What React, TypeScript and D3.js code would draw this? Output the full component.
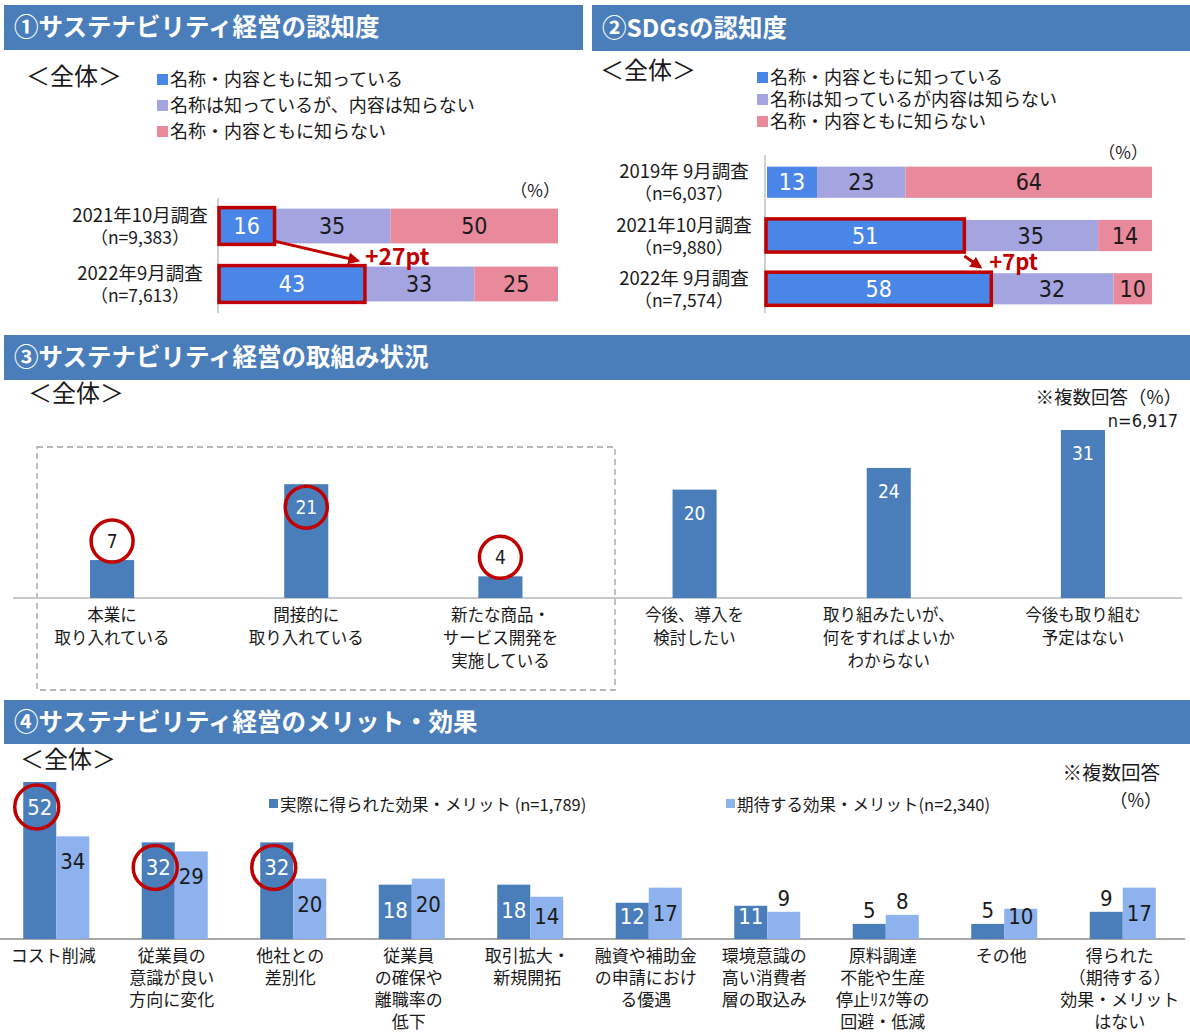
import React from "react";
import * as d3 from "d3";

// ---------- DATA ----------
const sec1Title = "①サステナビリティ経営の認知度";
const sec1Legend = ["名称・内容ともに知っている", "名称は知っているが、内容は知らない", "名称・内容ともに知らない"];
const sec1Categories = ["2021年10月調査", "2022年9月調査"];
const sec1N = ["（n=9,383）", "（n=7,613）"];
const sec1Known = [16, 43];
const sec1NameOnly = [35, 33];
const sec1Unknown = [50, 25];
const sec1Highlight = [0, 1];
const sec1Diff = "+27pt";

const sec2Title = "②SDGsの認知度";
const sec2Legend = ["名称・内容ともに知っている", "名称は知っているが内容は知らない", "名称・内容ともに知らない"];
const sec2Categories = ["2019年 9月調査", "2021年10月調査", "2022年 9月調査"];
const sec2N = ["（n=6,037）", "（n=9,880）", "（n=7,574）"];
const sec2Known = [13, 51, 58];
const sec2NameOnly = [23, 35, 32];
const sec2Unknown = [64, 14, 10];
const sec2Highlight = [1, 2];
const sec2Diff = "+7pt";

const sec3Title = "③サステナビリティ経営の取組み状況";
const sec3Categories = [
  ["本業に", "取り入れている"],
  ["間接的に", "取り入れている"],
  ["新たな商品・", "サービス開発を", "実施している"],
  ["今後、導入を", "検討したい"],
  ["取り組みたいが、", "何をすればよいか", "わからない"],
  ["今後も取り組む", "予定はない"],
];
const sec3Values = [7, 21, 4, 20, 24, 31];
const sec3Circled = [0, 1, 2];
const sec3Note = "※複数回答（%）";
const sec3N = "n=6,917";

const sec4Title = "④サステナビリティ経営のメリット・効果";
const sec4Categories = [
  ["コスト削減"],
  ["従業員の", "意識が良い", "方向に変化"],
  ["他社との", "差別化"],
  ["従業員", "の確保や", "離職率の", "低下"],
  ["取引拡大・", "新規開拓"],
  ["融資や補助金", "の申請におけ", "る優遇"],
  ["環境意識の", "高い消費者", "層の取込み"],
  ["原料調達", "不能や生産", "停止ﾘｽｸ等の", "回避・低減"],
  ["その他"],
  ["得られた", "（期待する）", "効果・メリット", "はない"],
];
const sec4Actual = [52, 32, 32, 18, 18, 12, 11, 5, 5, 9];
const sec4Expected = [34, 29, 20, 20, 14, 17, 9, 8, 10, 17];
const sec4Circled = [0, 1, 2];
const sec4Legend = ["実際に得られた効果・メリット (n=1,789)", "期待する効果・メリット(n=2,340)"];

// ---------- STYLE ----------
const HEADER = "#4a7ebb";
const RED = "#c00000";
const C_KNOWN = "#4a86e8";
const C_NAME = "#a4a4e0";
const C_UNK = "#e8899c";
const BAR = "#4a7ebb";
const BAR_LIGHT = "#8db2ee";
const JP = "'Noto Sans CJK JP', 'Noto Sans', sans-serif";
const NUM = "'Liberation Sans Narrow', 'DejaVu Sans Condensed', 'Liberation Sans', sans-serif";
const TXT = "#1a1a1a";

const keys = ["known", "nameOnly", "unknown"];
const segColors = [C_KNOWN, C_NAME, C_UNK];

function Header({ x, y, w, h, title }: any) {
  return (
    <g>
      <rect x={x} y={y} width={w} height={h} fill={HEADER} />
      <text x={x + 10} y={y + h / 2 + 8.5} fill="#fff" fontFamily={JP} fontWeight={700} fontSize={24.5}>
        {title}
      </text>
    </g>
  );
}

function Zentai({ x, y }: any) {
  return (
    <text x={x} y={y} fontFamily={JP} fontSize={24} fill={TXT}>
      ＜全体＞
    </text>
  );
}

function Legend({ x, y, gap, items }: any) {
  return (
    <g>
      {items.map((t: string, i: number) => (
        <g key={i}>
          <rect x={x} y={y + i * gap - 6} width={11} height={11} fill={segColors[i]} />
          <text x={x + 13} y={y + i * gap + 6} fontFamily={JP} fontSize={18} fill={TXT}>
            {t}
          </text>
        </g>
      ))}
    </g>
  );
}

function StackChart({ cats, ns, known, nameOnly, unknown, highlight, xDomain, xRange, yRange, labelX, axisY, paddingInner }: any) {
  const rows = cats.map((c: string, i: number) => ({ cat: c, known: known[i], nameOnly: nameOnly[i], unknown: unknown[i] }));
  const stack = d3.stack<any>().keys(keys)(rows);
  const x = d3.scaleLinear().domain(xDomain).range(xRange);
  const y = d3.scaleBand<string>().domain(cats).range(yRange).paddingInner(paddingInner).paddingOuter(0.2);
  return (
    <g>
      <line x1={xRange[0] - 2} x2={xRange[0] - 2} y1={axisY[0]} y2={axisY[1]} stroke="#d0d0d0" strokeWidth={2} />
      {stack.map((s, si) =>
        s.map((d, i) => {
          const x0 = x(d[0]);
          const x1 = x(d[1]);
          const yy = y(cats[i])!;
          const bw = y.bandwidth();
          return (
            <g key={si + "-" + i}>
              <rect x={x0} y={yy} width={x1 - x0} height={bw} fill={segColors[si]} />
              <text
                x={(x0 + x1) / 2}
                y={yy + bw / 2 + 8}
                textAnchor="middle"
                fontFamily={NUM}
                fontSize={23}
                fill={si === 0 ? "#fff" : TXT}
              >
                {d[1] - d[0]}
              </text>
            </g>
          );
        })
      )}
      {highlight.map((i: number) => {
        const d = stack[0][i];
        return (
          <rect
            key={"h" + i}
            x={x(d[0]) - 1}
            y={y(cats[i])! - 1}
            width={x(d[1]) - x(d[0]) + 2}
            height={y.bandwidth() + 2}
            fill="none"
            stroke={RED}
            strokeWidth={3.5}
          />
        );
      })}
      {cats.map((c: string, i: number) => {
        const yy = y(c)! + y.bandwidth() / 2;
        return (
          <g key={"l" + i}>
            <text x={labelX} y={yy - 4} textAnchor="middle" fontFamily={JP} fontSize={18.5} fill={TXT}>
              {c}
            </text>
            <text x={labelX} y={yy + 18} textAnchor="middle" fontFamily={JP} fontSize={17.5} fill={TXT}>
              {ns[i]}
            </text>
          </g>
        );
      })}
    </g>
  );
}

export default function App() {
  // Section 1 scales
  const x1 = d3.scaleLinear().domain([0, 101]).range([220, 558]);
  const y1 = d3.scaleBand<string>().domain(sec1Categories).range([197, 313]).paddingInner(0.4).paddingOuter(0.2);
  // Section 2 scales
  const x2 = d3.scaleLinear().domain([0, 100]).range([767, 1152]);
  const y2 = d3.scaleBand<string>().domain(sec2Categories).range([156, 315]).paddingInner(0.415).paddingOuter(0.2);

  // Section 3
  const x3 = d3
    .scaleBand<number>()
    .domain(sec3Values.map((_, i) => i))
    .range([15, 1180])
    .paddingInner(0.773)
    .paddingOuter(0.3865);
  const y3 = d3.scaleLinear().domain([0, 31]).range([598, 430]);

  // Section 4
  const x4 = d3
    .scaleBand<number>()
    .domain(sec4Actual.map((_, i) => i))
    .range([-3, 1182])
    .paddingInner(0.443)
    .paddingOuter(0.2215);
  const x4s = d3.scaleBand<string>().domain(["a", "e"]).range([0, x4.bandwidth()]);
  const y4 = d3.scaleLinear().domain([0, 52]).range([939, 782]);
  const base4 = y4(0);

  const label4Y = (v: number) => {
    const top = y4(v);
    const h = base4 - top;
    if (h < 29) return top - 6;
    return Math.min(top + 33, base4 - 15);
  };

  const s1a = x1(sec1Known[0]);
  const s1b = x1(sec1Known[1]);
  const s1y0 = y1(sec1Categories[0])! + y1.bandwidth();
  const s1y1 = y1(sec1Categories[1])!;
  const s2a = x2(sec2Known[1]);
  const s2b = x2(sec2Known[2]);
  const s2y0 = y2(sec2Categories[1])! + y2.bandwidth();
  const s2y1 = y2(sec2Categories[2])!;

  return (
    <svg width={1190} height={1033} style={{ position: "absolute", left: 0, top: 0, background: "#fff" }}>
      <defs>
        <marker id="ah" viewBox="0 0 10 10" refX="8" refY="5" markerWidth="4" markerHeight="4" orient="auto">
          <path d="M0,0 L10,5 L0,10 z" fill={RED} />
        </marker>
      </defs>
      <rect x={0} y={0} width={1190} height={1033} fill="#fff" />

      {/* Section 1 */}
      <Header x={4} y={5} w={579} h={45} title={sec1Title} />
      <Zentai x={26} y={85} />
      <Legend x={157} y={80} gap={26} items={sec1Legend} />
      <text x={560} y={197} textAnchor="end" fontFamily={JP} fontSize={17} fill={TXT}>
        （%）
      </text>
      <StackChart
        cats={sec1Categories}
        ns={sec1N}
        known={sec1Known}
        nameOnly={sec1NameOnly}
        unknown={sec1Unknown}
        highlight={sec1Highlight}
        xDomain={[0, 101]}
        xRange={[220, 558]}
        yRange={[197, 313]}
        labelX={140}
        axisY={[198, 313]}
        paddingInner={0.4}
      />
      <line x1={s1a + 2} y1={s1y0 - 2} x2={s1b - 6} y2={s1y1 - 6} stroke={RED} strokeWidth={3} markerEnd="url(#ah)" />
      <text x={s1b + 1} y={s1y1 - 2} fontFamily={JP} fontWeight={700} fontSize={23} fill={RED}>
        {sec1Diff}
      </text>

      {/* Section 2 */}
      <Header x={592} y={5} w={598} h={46} title={sec2Title} />
      <Zentai x={600} y={79} />
      <Legend x={757} y={78} gap={22} items={sec2Legend} />
      <text x={1148} y={159} textAnchor="end" fontFamily={JP} fontSize={17} fill={TXT}>
        （%）
      </text>
      <StackChart
        cats={sec2Categories}
        ns={sec2N}
        known={sec2Known}
        nameOnly={sec2NameOnly}
        unknown={sec2Unknown}
        highlight={sec2Highlight}
        xDomain={[0, 100]}
        xRange={[767, 1152]}
        yRange={[156, 315]}
        labelX={684}
        axisY={[155, 313]}
        paddingInner={0.415}
      />
      <line x1={s2a + 1} y1={s2y0 + 5} x2={s2a + 17} y2={s2y1 - 6} stroke={RED} strokeWidth={3} markerEnd="url(#ah)" />
      <text x={s2b - 1} y={s2y1 - 3} fontFamily={JP} fontWeight={700} fontSize={22} fill={RED}>
        {sec2Diff}
      </text>

      {/* Section 3 */}
      <Header x={4} y={335} w={1186} h={45} title={sec3Title} />
      <Zentai x={28} y={402} />
      <text x={1182} y={404} textAnchor="end" fontFamily={JP} fontSize={18.5} fill={TXT}>
        {sec3Note}
      </text>
      <text x={1178} y={427} textAnchor="end" fontFamily={NUM} fontSize={18} fill={TXT}>
        {sec3N}
      </text>
      <rect x={37} y={447} width={578} height={243} fill="none" stroke="#a0a0a0" strokeWidth={1.3} strokeDasharray="6 4" />
      <line x1={13} x2={1182} y1={y3(0)} y2={y3(0)} stroke="#c8c8c8" strokeWidth={2} />
      {sec3Values.map((v, i) => {
        const bx = x3(i)!;
        const bw = x3.bandwidth();
        const cx = bx + bw / 2;
        const top = y3(v);
        const circled = sec3Circled.includes(i);
        const inside = v > 10;
        const ly = inside ? top + 23 : top - 19;
        return (
          <g key={i}>
            <rect x={bx} y={top} width={bw} height={y3(0) - top} fill={BAR} />
            {circled && <circle cx={cx} cy={ly} r={21} fill={inside ? "none" : "#fff"} stroke={RED} strokeWidth={3.5} />}
            <text x={cx} y={ly + 7} textAnchor="middle" fontFamily={NUM} fontSize={19} fill={inside ? "#fff" : TXT}>
              {v}
            </text>
            {sec3Categories[i].map((t, j) => (
              <text key={j} x={cx} y={621 + j * 23} textAnchor="middle" fontFamily={JP} fontSize={16.5} fill={TXT}>
                {t}
              </text>
            ))}
          </g>
        );
      })}

      {/* Section 4 */}
      <Header x={4} y={700} w={1186} h={44} title={sec4Title} />
      <Zentai x={20} y={768} />
      <text x={1160} y={780} textAnchor="end" fontFamily={JP} fontSize={19.5} fill={TXT}>
        ※複数回答
      </text>
      <text x={1162} y={807} textAnchor="end" fontFamily={JP} fontSize={18} fill={TXT}>
        （%）
      </text>
      <rect x={269} y={799} width={9} height={9} fill={BAR} />
      <text x={280} y={811} fontFamily={JP} fontSize={16.5} fill={TXT}>
        {sec4Legend[0]}
      </text>
      <rect x={726} y={799} width={9} height={9} fill={BAR_LIGHT} />
      <text x={737} y={811} fontFamily={JP} fontSize={16.5} fill={TXT}>
        {sec4Legend[1]}
      </text>
      <line x1={0} x2={1185} y1={base4} y2={base4} stroke="#a8a8a8" strokeWidth={2} />
      {sec4Actual.map((a, i) => {
        const gx = x4(i)!;
        const e = sec4Expected[i];
        const ax = gx + x4s("a")!;
        const ex = gx + x4s("e")!;
        const bw = x4s.bandwidth();
        const aInside = base4 - y4(a) >= 29;
        const aly = label4Y(a);
        const ely = label4Y(e);
        const cx = gx + x4.bandwidth() / 2;
        return (
          <g key={i}>
            <rect x={ax} y={y4(a)} width={bw} height={base4 - y4(a)} fill={BAR} />
            <rect x={ex} y={y4(e)} width={bw} height={base4 - y4(e)} fill={BAR_LIGHT} />
            {sec4Circled.includes(i) && (
              <circle cx={ax + bw / 2 - 3} cy={aly - 8} r={22} fill="none" stroke={RED} strokeWidth={3.5} />
            )}
            <text x={ax + bw / 2} y={aly} textAnchor="middle" fontFamily={NUM} fontSize={22} fill={aInside ? "#fff" : TXT}>
              {a}
            </text>
            <text x={ex + bw / 2} y={ely} textAnchor="middle" fontFamily={NUM} fontSize={22} fill={TXT}>
              {e}
            </text>
            {sec4Categories[i].map((t, j) => (
              <text key={j} x={cx - 3} y={962 + j * 22} textAnchor="middle" fontFamily={JP} fontSize={17} fill={TXT}>
                {t}
              </text>
            ))}
          </g>
        );
      })}
    </svg>
  );
}
